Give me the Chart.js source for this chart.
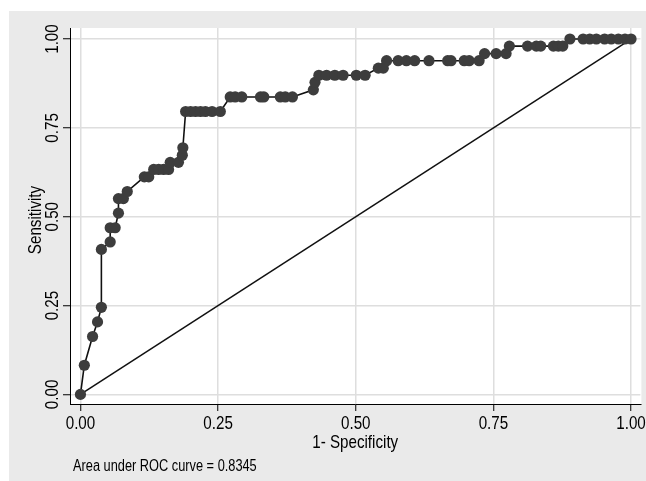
<!DOCTYPE html>
<html>
<head>
<meta charset="utf-8">
<title>ROC curve</title>
<script src="https://cdn.jsdelivr.net/npm/chart.js@4/dist/chart.umd.min.js"></script>
<style>
    body { margin: 0; background: #ffffff; }
    canvas { display: block; }
</style>
</head>
<body>
<canvas id="roc" width="646" height="481"></canvas>
<script>
// точки ROC-кривой
const falsePositiveRate = [
    0, 0.007, 0.022, 0.031, 0.038, 0.038, 0.054, 0.054, 0.063, 0.069,
    0.069, 0.078, 0.085, 0.116, 0.124, 0.133, 0.142, 0.151, 0.160, 0.163,
    0.178, 0.185, 0.186, 0.191, 0.200, 0.209, 0.218, 0.227, 0.239, 0.254,
    0.272, 0.281, 0.293, 0.327, 0.333, 0.363, 0.372, 0.385, 0.423, 0.426,
    0.433, 0.447, 0.462, 0.477, 0.501, 0.517, 0.541, 0.550, 0.556, 0.577,
    0.592, 0.607, 0.633, 0.667, 0.673, 0.697, 0.706, 0.724, 0.734, 0.755,
    0.773, 0.779, 0.812, 0.828, 0.836, 0.859, 0.868, 0.876, 0.889, 0.913,
    0.925, 0.937, 0.952, 0.964, 0.977, 0.989, 1.000
];
const sensitivity = [
    0, 0.082, 0.163, 0.204, 0.245, 0.408, 0.429, 0.469, 0.469, 0.510,
    0.551, 0.551, 0.571, 0.612, 0.612, 0.633, 0.633, 0.633, 0.633, 0.653,
    0.653, 0.673, 0.694, 0.796, 0.796, 0.796, 0.796, 0.796, 0.796, 0.796,
    0.837, 0.837, 0.837, 0.837, 0.837, 0.837, 0.837, 0.837, 0.857, 0.878,
    0.898, 0.898, 0.898, 0.898, 0.898, 0.898, 0.918, 0.918, 0.939, 0.939,
    0.939, 0.939, 0.939, 0.939, 0.939, 0.939, 0.939, 0.939, 0.959, 0.959,
    0.959, 0.980, 0.980, 0.980, 0.980, 0.980, 0.980, 0.980, 1.000, 1.000,
    1.000, 1.000, 1.000, 1.000, 1.000, 1.000, 1.000
];
const diagonalX = [0, 1];
const diagonalY = [0, 1];

const xTickValues = [0, 0.25, 0.5, 0.75, 1];
const xTickLabels = ['0.00', '0.25', '0.50', '0.75', '1.00'];
const yTickValues = [0, 0.25, 0.5, 0.75, 1];
const yTickLabels = ['0.00', '0.25', '0.50', '0.75', '1.00'];

const xTitle = '1- Specificity';
const yTitle = 'Sensitivity';
const note = 'Area under ROC curve = 0.8345';

// узкого шрифта нет, поэтому сжимаем обычный по горизонтали
const FONT = "'Liberation Sans', Arial, sans-serif";
const NARROW = 0.82;


function toPoints(xs, ys) {
    return xs.map((x, i) => ({ x: x, y: ys[i] }));
}

function setTicks(values) {
    return function (scale) {
        scale.ticks = values.map((v) => ({ value: v }));
    };
}

function drawNarrowText(ctx, text, x, y, size, align, rotated) {
    ctx.save();
    ctx.translate(x, y);
    if (rotated) ctx.rotate(-Math.PI / 2);
    ctx.scale(NARROW, 1);
    ctx.font = size + 'px ' + FONT;
    ctx.fillStyle = '#000000';
    ctx.textAlign = align;
    ctx.textBaseline = 'alphabetic';
    ctx.fillText(text, 0, 0);
    ctx.restore();
}

// серый фон, белое поле графика и все подписи
const stataLook = {
    id: 'stataLook',
    beforeDraw(chart) {
        const ctx = chart.ctx;
        const area = chart.chartArea;
        ctx.save();
        ctx.fillStyle = '#ffffff';
        ctx.fillRect(0, 0, chart.width, chart.height);
        ctx.fillStyle = '#eaeaea';
        ctx.fillRect(9, 11, chart.width - 9, chart.height - 11);
        ctx.fillStyle = '#ffffff';
        ctx.fillRect(area.left, area.top, area.right - area.left + 1, area.bottom - area.top);
        ctx.restore();
    },
    afterDraw(chart) {
        const ctx = chart.ctx;
        const xScale = chart.scales.x;
        const yScale = chart.scales.y;
        const area = chart.chartArea;

        xTickValues.forEach((v, i) => {
            drawNarrowText(ctx, xTickLabels[i], xScale.getPixelForValue(v), 428.5, 18.5, 'center', false);
        });
        yTickValues.forEach((v, i) => {
            drawNarrowText(ctx, yTickLabels[i], 57.5, yScale.getPixelForValue(v), 18.5, 'center', true);
        });

        drawNarrowText(ctx, xTitle, (area.left + area.right) / 2, 447.5, 18.5, 'center', false);
        drawNarrowText(ctx, yTitle, 40.5, (area.top + area.bottom) / 2 + 4, 18.5, 'center', true);
        drawNarrowText(ctx, note, 73, 470.5, 15.6, 'left', false);
    }
};

function createConfig() {
    return {
        type: 'scatter',
        data: {
            datasets: [
                {
                    data: toPoints(falsePositiveRate, sensitivity),
                    showLine: true,
                    borderColor: '#111111',
                    borderWidth: 1.6,
                    pointRadius: 5.6,
                    pointBackgroundColor: '#3d3d3d',
                    pointBorderColor: '#3d3d3d',
                    pointBorderWidth: 0,
                    tension: 0
                },
                {
                    data: toPoints(diagonalX, diagonalY),
                    showLine: true,
                    borderColor: '#111111',
                    borderWidth: 1.5,
                    pointRadius: 0
                }
            ]
        },
        options: {
            responsive: false,
            animation: false,
            devicePixelRatio: 1,
            layout: { padding: { left: 0, right: 5, top: 28, bottom: 0 } },
            plugins: {
                legend: { display: false },
                tooltip: { enabled: false }
            },
            scales: {
                x: {
                    type: 'linear',
                    min: -0.019,
                    max: 1.017,
                    afterBuildTicks: setTicks(xTickValues),
                    afterFit: (scale) => { scale.height = 77; },
                    grid: { color: '#dedede', lineWidth: 1.5, tickColor: '#000000', tickLength: 7, tickWidth: 1 },
                    border: { display: true, color: '#000000', width: 1 },
                    ticks: { display: false }
                },
                y: {
                    type: 'linear',
                    min: -0.027,
                    max: 1.031,
                    afterBuildTicks: setTicks(yTickValues),
                    afterFit: (scale) => { scale.width = 70; },
                    grid: { color: '#dedede', lineWidth: 1.5, tickColor: '#000000', tickLength: 7, tickWidth: 1 },
                    border: { display: true, color: '#000000', width: 1 },
                    ticks: { display: false }
                }
            }
        },
        plugins: [stataLook]
    };
}

function drawRoc() {
    const ctx = document.getElementById('roc').getContext('2d');
    new Chart(ctx, createConfig());
}

drawRoc();
</script>
</body>
</html>
